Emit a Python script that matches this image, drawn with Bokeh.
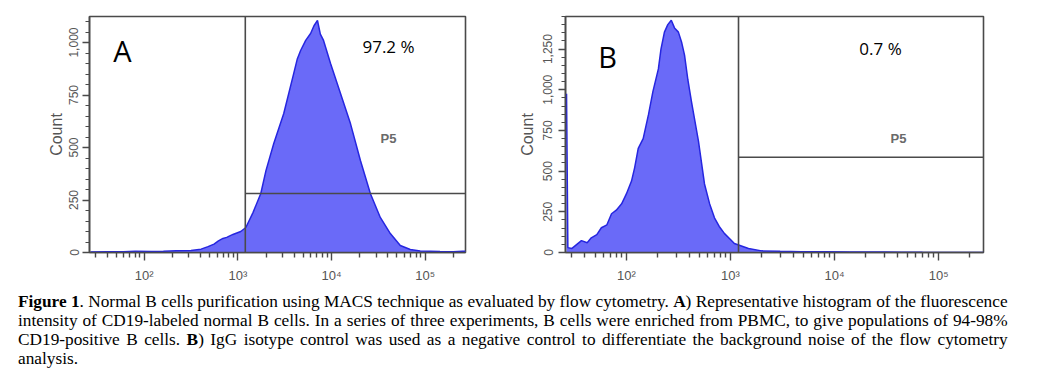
from bokeh.plotting import figure
from bokeh.models import (Range1d, FixedTicker, SingleIntervalTicker, NumeralTickFormatter,
                          CustomJSTickFormatter, Label, Span, Div, Spacer)
from bokeh.layouts import row, column
from bokeh.embed import file_html
from bokeh.resources import INLINE

# ---------------- data ----------------
# Panel A: CD19-labelled normal B cells (fluorescence intensity, count)
a_intensity = [26.7, 40, 60, 80, 119, 160, 220, 316, 404, 480, 556, 620, 692, 760, 885,
               1073, 1216, 1450, 1757, 1995, 2417, 3090, 3945, 4300, 4680, 5300, 5980,
               6500, 7080, 7600, 8220, 9770, 12480, 15940, 20370, 26000, 33200, 42500,
               54300, 69400, 88600, 144600, 200000, 252000, 270000]
a_count = [2, 4, 3, 6, 5, 6, 8, 10, 16, 28, 40, 55, 67, 72, 86,
           100, 119, 190, 281, 390, 519, 662, 852, 920, 962, 1010, 1043,
           1080, 1105, 1040, 1010, 900, 757, 614, 438, 281, 167, 90,
           33, 14, 7, 5, 4, 6, 6]

# Panel B: IgG isotype control
b_intensity = [26.6, 27.4, 30, 37, 42, 46, 52, 57.5, 65, 72, 80, 90, 100, 112, 120, 130,
               145, 163, 180, 203, 215, 232, 250, 270, 290, 316, 340, 362, 390, 422,
               493, 563, 630, 702, 780, 877, 1000, 1090, 1490, 1990, 3000, 4800, 8000,
               14000, 30000, 44000, 70000, 270000]
b_count = [975, 30, 25, 73, 60, 90, 110, 152, 170, 238, 260, 299, 360, 439, 520, 640,
           700, 847, 990, 1128, 1250, 1354, 1400, 1427, 1380, 1354, 1290, 1213, 1060, 927,
           683, 421, 300, 213, 160, 116, 80, 55, 25, 10, 7, 5, 4,
           3, 3, 2, 1, 0]

x_limits = [26.0, 270000]
a_ymax = 1124
b_ymax = 1450

a_gate = {"x": 1200, "y": 281}
b_gate = {"x": 1195, "y": 585}

panel_letters = ["A", "B"]
gate_percent = ["97.2 %", "0.7 %"]
gate_name = "P5"
y_label = "Count"

caption_lines = [
    "<b>Figure 1</b>. Normal B cells purification using MACS technique as evaluated by flow "
    "cytometry. <b>A</b>) Representative histogram of the fluorescence",
    "intensity of CD19-labeled normal B cells. In a series of three experiments, B cells were "
    "enriched from PBMC, to give populations of 94-98%",
    "CD19-positive B cells. <b>B</b>) IgG isotype control was used as a negative control to "
    "differentiate the background noise of the flow cytometry",
    "analysis.",
]

FILL = "#6a6af8"
EDGE = "#2626e0"
FRAME = "#4a4a4a"
TXT = "#555555"

sup_formatter = CustomJSTickFormatter(code="""
const e = Math.round(Math.log10(tick));
const sup = {"0":"\u2070","1":"\u00b9","2":"\u00b2","3":"\u00b3","4":"\u2074","5":"\u2075","6":"\u2076"};
return "10" + String(e).split("").map(c => sup[c]).join("");
""")


def panel(xs, ys, ymax, gate, letter, pct, width, bl, br, lab_pos, pct_pos, p5_pos,
          tick_standoff, label_standoff):
    p = figure(width=width, height=287, x_axis_type="log",
               x_range=Range1d(*x_limits), y_range=Range1d(0, ymax),
               output_backend="svg", toolbar_location=None,
               min_border_left=bl, min_border_right=br, min_border_top=16, min_border_bottom=35)
    p.xgrid.visible = False
    p.ygrid.visible = False
    p.outline_line_color = FRAME
    p.outline_line_width = 1.6
    p.outline_line_alpha = 1.0

    p.varea(x=xs, y1=[0] * len(xs), y2=ys, fill_color=FILL, fill_alpha=1.0)
    p.line(xs, ys, line_color=EDGE, line_width=1.5)

    # gate
    p.add_layout(Span(location=gate["x"], dimension="height", line_color=FRAME, line_width=1.6))
    p.segment(x0=[gate["x"]], y0=[gate["y"]], x1=[x_limits[1]], y1=[gate["y"]],
              line_color=FRAME, line_width=1.6)

    # x axis
    ax = p.xaxis[0]
    ax.ticker = FixedTicker(ticks=[10 ** k for k in range(2, 6)],
                            minor_ticks=[m * 10 ** k for k in range(1, 6) for m in range(2, 10)])
    ax.formatter = sup_formatter
    ax.axis_line_color = FRAME
    ax.axis_line_width = 1.6
    ax.major_tick_line_color = FRAME
    ax.minor_tick_line_color = FRAME
    ax.major_tick_line_width = 1.4
    ax.minor_tick_line_width = 1.4
    ax.major_tick_in = 0
    ax.major_tick_out = 8
    ax.minor_tick_in = 0
    ax.minor_tick_out = 5
    ax.major_label_text_font = "Liberation Sans"
    ax.major_label_text_font_size = "13px"
    ax.major_label_text_color = TXT
    ax.major_label_standoff = 7

    # y axis
    ay = p.yaxis[0]
    ay.ticker = SingleIntervalTicker(interval=250, num_minor_ticks=5)
    ay.formatter = NumeralTickFormatter(format="0,0")
    ay.major_label_orientation = "vertical"
    ay.axis_line_color = FRAME
    ay.axis_line_width = 1.6
    ay.major_tick_line_color = FRAME
    ay.minor_tick_line_color = FRAME
    ay.major_tick_line_width = 1.4
    ay.minor_tick_line_width = 1.2
    ay.major_tick_in = 0
    ay.major_tick_out = 7
    ay.minor_tick_in = 0
    ay.minor_tick_out = 4
    ay.major_label_text_font = "Liberation Sans"
    ay.major_label_text_font_size = "12px"
    ay.major_label_text_color = TXT
    ay.major_label_standoff = tick_standoff
    ay.axis_label = y_label
    ay.axis_label_text_font = "Liberation Sans"
    ay.axis_label_text_font_size = "16px"
    ay.axis_label_text_font_style = "normal"
    ay.axis_label_text_color = TXT
    ay.axis_label_standoff = label_standoff

    p.add_layout(Label(x=lab_pos[0], y=lab_pos[1], x_units="screen", y_units="screen", text=letter,
                       text_font="Open Sans", text_font_size="29px", text_color="black",
                       text_align="center", text_baseline="middle"))
    p.add_layout(Label(x=pct_pos[0], y=pct_pos[1], x_units="screen", y_units="screen", text=pct,
                       text_font="Open Sans", text_font_size="17px", text_color="black",
                       text_align="center", text_baseline="middle"))
    p.add_layout(Label(x=p5_pos[0], y=p5_pos[1], x_units="screen", y_units="screen", text=gate_name,
                       text_font="Liberation Sans", text_font_size="13px", text_color="#6a6a6a",
                       text_font_style="bold", text_align="center", text_baseline="middle"))
    return p


pa = panel(a_intensity, a_count, a_ymax, a_gate, panel_letters[0], gate_percent[0],
           width=485, bl=89, br=20, lab_pos=(33, 202), pct_pos=(299, 206), p5_pos=(299, 114),
           tick_standoff=4, label_standoff=2)
pb = panel(b_intensity, b_count, b_ymax, b_gate, panel_letters[1], gate_percent[1],
           width=555, bl=80, br=57, lab_pos=(42, 196), pct_pos=(315, 204), p5_pos=(333, 114),
           tick_standoff=6, label_standoff=5)

just = "text-align:justify;text-align-last:justify;white-space:nowrap;"
caption_html = "".join(
    f'<div style="{just if i < len(caption_lines) - 1 else "white-space:nowrap;"}">{ln}</div>'
    for i, ln in enumerate(caption_lines))

caption = Div(text=caption_html, width=1021, height=86,
              styles={"font-family": "'Liberation Serif', 'Times New Roman', serif",
                      "font-size": "17.3px", "line-height": "19px", "color": "black"})

layout = column(row(pa, pb), row(Spacer(width=13, height=86), caption))

with open("out.html", "w") as f:
    f.write(file_html(layout, INLINE))
